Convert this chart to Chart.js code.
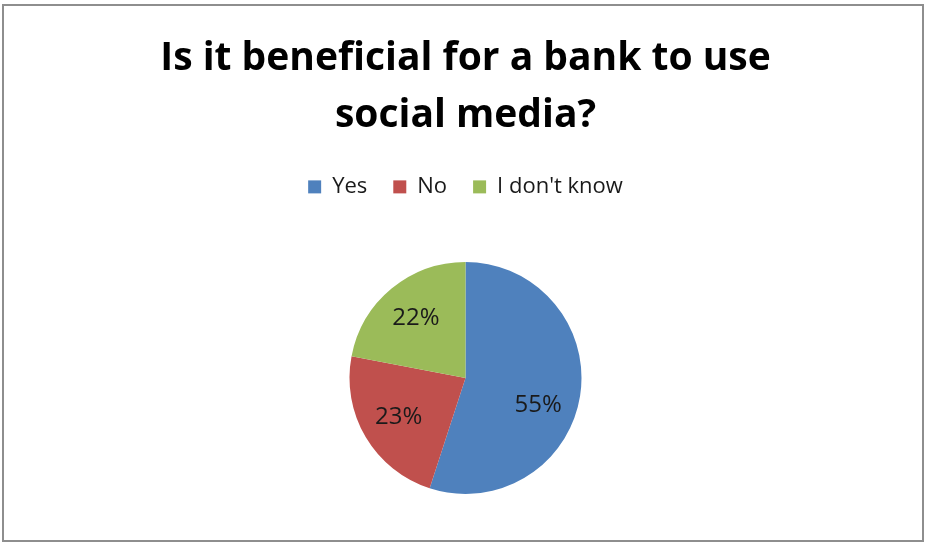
<!DOCTYPE html>
<html>
<head>
<meta charset="utf-8">
<script src="https://cdn.jsdelivr.net/npm/chart.js@4"></script>
<style>
  html, body { margin: 0; padding: 0; background: #fff; }
  .frame {
    position: absolute; left: 2px; top: 4px;
    width: 918px; height: 534px;
    border: 2px solid #8e8e8e;
    overflow: hidden;
  }
  canvas { display: block; }
</style>
</head>
<body>
<!-- canvas is a little taller than the frame so the pie sits lower, as in Excel -->
<div class="frame"><canvas id="chart" width="918" height="542"></canvas></div>
<script>
'use strict';

/* ---- DATA ------------------------------------------------- */
const categories = ['Yes', 'No', "I don't know"];
const shares = [55, 23, 22];
const sliceColors = ['#4F81BD', '#C0504D', '#9BBB59'];
const titleLines = ['Is it beneficial for a bank to use', 'social media?'];

const FONT = "'Open Sans', sans-serif";

/* Percent labels inside slices, at 2/3 of the radius */
const sliceLabels = {
  id: 'sliceLabels',
  afterDatasetsDraw(chart) {
    const { ctx } = chart;
    const meta = chart.getDatasetMeta(0);
    ctx.save();
    ctx.font = '24px ' + FONT;
    ctx.fillStyle = '#1a1a1a';
    ctx.textAlign = 'center';
    ctx.textBaseline = 'middle';
    meta.data.forEach((arc, i) => {
      const { x, y, startAngle, endAngle, outerRadius } = arc.getProps(['x', 'y', 'startAngle', 'endAngle', 'outerRadius'], true);
      // Excel nudges the big slice's label a bit further round
      const mid = startAngle + (endAngle - startAngle) * (i === 0 ? 0.56 : 0.5);
      const r = outerRadius * 0.67;
      ctx.fillText(shares[i] + '%', x + Math.cos(mid) * r, y + Math.sin(mid) * r);
    });
    ctx.restore();
  }
};

new Chart(document.getElementById('chart'), {
  type: 'pie',
  data: {
    labels: categories,
    datasets: [{
      data: shares,
      backgroundColor: sliceColors,
      borderWidth: 0,
      radius: 116
    }]
  },
  options: {
    responsive: false,
    animation: false,
    devicePixelRatio: 1,
    layout: { padding: { left: 5, right: 0, top: 0, bottom: 0 } },
    plugins: {
      title: {
        display: true,
        text: titleLines,
        color: '#000',
        font: { family: FONT, size: 39, weight: 'bold', lineHeight: 1.46 },
        padding: { top: 24, bottom: 6 }
      },
      legend: {
        position: 'top',
        labels: {
          color: '#1a1a1a',
          font: { family: FONT, size: 22 },
          boxWidth: 13,
          boxHeight: 13,
          padding: 26
        }
      },
      tooltip: { enabled: false }
    }
  },
  plugins: [sliceLabels]
});
</script>
</body>
</html>
